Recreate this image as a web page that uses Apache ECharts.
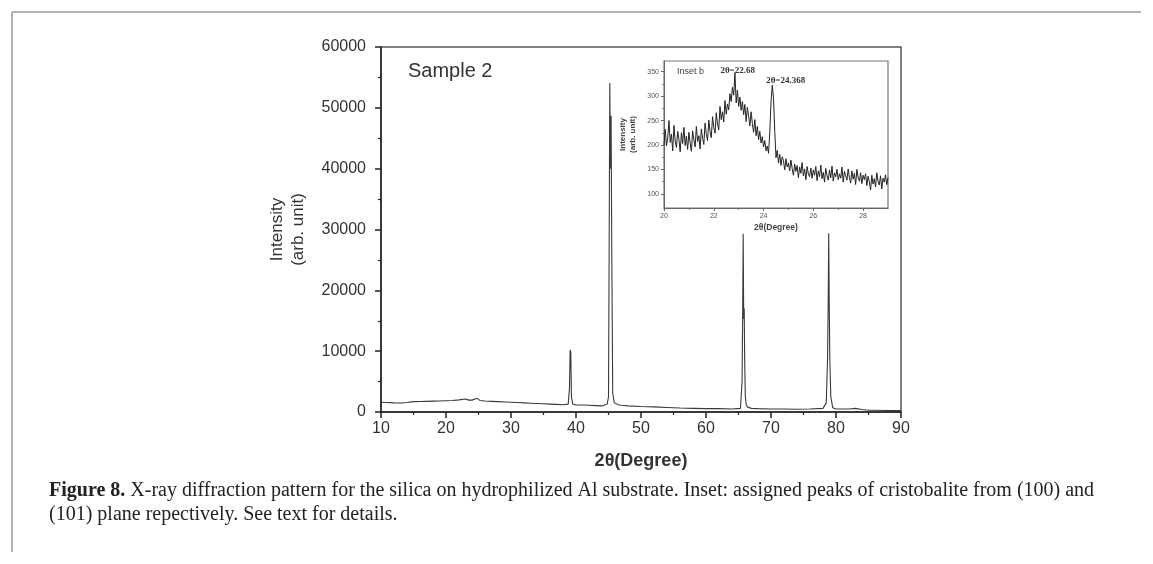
<!DOCTYPE html>
<html><head><meta charset="utf-8">
<script src="https://cdn.jsdelivr.net/npm/echarts@6/dist/echarts.min.js"></script>
<style>html,body{margin:0;padding:0;background:#fff}#c{width:1153px;height:564px}</style>
</head><body><div id="c"></div><script>
// Main XRD pattern (2θ in degrees, intensity in arb. unit)
const mainX = [10,11,12,13,14,15,16,17,18,19,20,21,22,23,23.5,24,24.8,25.2,26,27,28,29,30,31,32,33,34,35,36,37,38,38.8,39.0,39.1,39.2,39.3,39.5,40,41,42,43,44,44.8,45.0,45.1,45.2,45.3,45.4,45.5,45.65,45.9,46.5,47,48,50,52,54,55,56,58,60,62,64,65.3,65.55,65.65,65.72,65.8,65.88,65.95,66.05,66.2,66.4,67,68,70,72,74,76,78,78.5,78.7,78.8,78.88,78.96,79.05,79.2,79.5,80,82,83,84,85,86,88,90];
const mainY = [1600,1550,1500,1480,1550,1700,1720,1750,1780,1800,1850,1900,2000,2150,1950,1950,2250,1900,1800,1750,1700,1650,1600,1550,1500,1450,1400,1350,1300,1250,1200,1300,4000,10200,9800,2500,1300,1150,1150,1100,1050,1000,1300,2500,27000,54100,40000,48700,27100,3000,1500,1200,1100,1000,900,850,750,700,650,600,550,550,500,600,5000,17200,29300,15300,17000,8500,2500,1200,800,600,550,500,500,450,500,600,1500,8700,17800,29400,17800,8700,2500,700,500,500,600,400,300,300,250,250];
const mainXTicks = [10,20,30,40,50,60,70,80,90];
const mainYTicks = [0,10000,20000,30000,40000,50000,60000];

// Inset b: scan from 20.00° to 29.00° in 0.05° steps
const insetStart = 20, insetStep = 0.05;
const insetY = [
200,232,198,215,250,205,222,188,240,208,195,228,212,186,225,203,236,199,218,191,226,
204,187,229,211,196,238,207,219,192,233,214,201,245,222,209,251,228,215,258,236,
224,266,243,231,279,252,268,247,291,263,284,272,305,289,318,302,348,286,312,279,
298,271,289,262,283,248,277,259,239,268,244,226,252,219,238,211,228,204,217,196,
209,188,198,183,226,288,322,297,228,174,189,163,181,158,176,168,149,172,155,163,
147,169,152,138,161,146,158,133,155,142,164,137,151,129,156,141,135,153,132,149,
138,156,127,147,135,159,131,144,124,152,137,128,149,133,157,126,143,135,150,129,
141,132,155,124,146,137,128,151,133,122,147,130,142,119,150,134,126,143,121,138,
129,141,117,136,125,108,138,120,131,114,143,126,118,137,110,132,124,139,119,133];
const insetYTicks = [100,150,200,250,300,350];
const insetYMinor = [125,175,225,275,325];
const insetXTicks = [20,22,24,26,28];
const insetPeaks = [[22.68, 348, '2θ=22.68'], [24.368, 322, '2θ=24.368']];

const mainData = mainX.map((x, i) => [x, mainY[i]]);
const insetData = insetY.map((y, i) => [+(insetStart + i * insetStep).toFixed(2), y]);

const sans = 'Liberation Sans';
const plain = v => String(v);
const chart = echarts.init(document.getElementById('c'));
chart.setOption({
  animation: false,
  backgroundColor: '#fff',
  title: [
    { text: 'Sample 2', left: 403, top: 56, textStyle: { fontFamily: sans, fontSize: 20, fontWeight: 'normal', color: '#333' } },
    { text: 'Inset b', left: 672, top: 62, textStyle: { fontFamily: sans, fontSize: 9, fontWeight: 'normal', color: '#444' } },
    { text: '{b|Figure 8.} X-ray diffraction pattern for the silica on hydrophilized Al substrate. Inset: assigned peaks of cristobalite from (100) and\n(101) plane repectively. See text for details.',
      left: 44, top: 474,
      textStyle: { fontFamily: 'Liberation Serif', fontSize: 20, fontWeight: 'normal', color: '#222', lineHeight: 24,
        rich: { b: { fontFamily: 'Liberation Serif', fontSize: 20, fontWeight: 'bold', color: '#222', lineHeight: 24 } } } }
  ],
  graphic: [
    { type: 'line', shape: { x1: 12, y1: 12, x2: 1141, y2: 12 }, style: { stroke: '#9a9a9a', lineWidth: 1.5 } },
    { type: 'line', shape: { x1: 12, y1: 12, x2: 12, y2: 552 }, style: { stroke: '#9a9a9a', lineWidth: 1.5 } }
  ],
  grid: [
    { left: 381, top: 47, width: 520, height: 365, show: true, borderColor: '#555', borderWidth: 1.5, backgroundColor: 'transparent' },
    { left: 664, top: 61, width: 224, height: 147, show: true, borderColor: '#777', borderWidth: 1.2, backgroundColor: '#fff' }
  ],
  xAxis: [
    { gridIndex: 0, type: 'value', min: 10, max: 90, interval: 10,
      axisLine: { show: true, onZero: false, lineStyle: { color: '#222', width: 1.5 } },
      axisTick: { show: true, length: 6, customValues: mainXTicks, lineStyle: { color: '#222', width: 1.5 } },
      minorTick: { show: true, splitNumber: 2, length: 3, lineStyle: { color: '#222', width: 1.2 } },
      axisLabel: { customValues: mainXTicks, formatter: plain, color: '#333', fontSize: 16, fontFamily: sans, margin: 9 },
      splitLine: { show: false }, minorSplitLine: { show: false },
      name: '2θ(Degree)', nameLocation: 'middle', nameGap: 40,
      nameTextStyle: { fontSize: 18, fontWeight: 'bold', color: '#333', fontFamily: sans } },
    { gridIndex: 1, type: 'value', min: 20, max: 29, interval: 2,
      axisLine: { show: true, onZero: false, lineStyle: { color: '#666', width: 1 } },
      axisTick: { show: true, length: 3, customValues: insetXTicks, lineStyle: { color: '#666', width: 1 } },
      minorTick: { show: true, splitNumber: 2, length: 2, lineStyle: { color: '#666', width: 0.8 } },
      axisLabel: { customValues: insetXTicks, formatter: plain, color: '#555', fontSize: 7, fontFamily: sans, margin: 5 },
      splitLine: { show: false },
      name: '2θ(Degree)', nameLocation: 'middle', nameGap: 15,
      nameTextStyle: { fontSize: 8.5, fontWeight: 'bold', color: '#444', fontFamily: sans } }
  ],
  yAxis: [
    { gridIndex: 0, type: 'value', min: 0, max: 60000, interval: 10000,
      axisLine: { show: true, lineStyle: { color: '#222', width: 1.5 } },
      axisTick: { show: true, length: 6, customValues: mainYTicks, lineStyle: { color: '#222', width: 1.5 } },
      minorTick: { show: true, splitNumber: 2, length: 3, lineStyle: { color: '#222', width: 1.2 } },
      axisLabel: { customValues: mainYTicks, formatter: plain, color: '#333', fontSize: 16, fontFamily: sans, margin: 15 },
      splitLine: { show: false },
      name: 'Intensity\n(arb. unit)', nameLocation: 'middle', nameRotate: 90, nameGap: 72,
      nameTextStyle: { fontSize: 17, color: '#333', fontFamily: sans, lineHeight: 21 } },
    { gridIndex: 1, type: 'value', min: 71, max: 372, position: 'left',
      axisLine: { show: true, lineStyle: { color: '#666', width: 1 } },
      axisTick: { show: true, length: 3, customValues: insetYTicks, lineStyle: { color: '#666', width: 1 } },
      axisLabel: { customValues: insetYTicks, formatter: plain, color: '#555', fontSize: 7, fontFamily: sans, margin: 5 },
      splitLine: { show: false },
      name: 'Intensity\n(arb. unit)', nameLocation: 'middle', nameRotate: 90, nameGap: 26,
      nameTextStyle: { fontSize: 8, fontWeight: 'bold', color: '#444', fontFamily: sans, lineHeight: 10 } },
    { gridIndex: 1, type: 'value', min: 71, max: 372, position: 'left',
      axisLine: { show: false },
      axisTick: { show: true, length: 2, customValues: insetYMinor, lineStyle: { color: '#666', width: 0.8 } },
      axisLabel: { show: false }, splitLine: { show: false } }
  ],
  series: [
    { type: 'line', xAxisIndex: 0, yAxisIndex: 0, data: mainData, showSymbol: false, symbol: 'none',
      lineStyle: { color: '#3a3a3a', width: 1.1 } },
    { type: 'line', xAxisIndex: 1, yAxisIndex: 1, data: insetData, showSymbol: false, symbol: 'none',
      lineStyle: { color: '#222', width: 1 },
      markPoint: { symbol: 'circle', symbolSize: 0, silent: true,
        label: { show: true, position: 'inside', fontFamily: 'Liberation Serif', fontSize: 9, fontWeight: 'bold', color: '#333' },
        data: [
          { coord: [insetPeaks[0][0], insetPeaks[0][1]], value: insetPeaks[0][2], label: { formatter: insetPeaks[0][2], offset: [7, -2] } },
          { coord: [insetPeaks[1][0], insetPeaks[1][1]], value: insetPeaks[1][2], label: { formatter: insetPeaks[1][2], offset: [13, -5] } }
        ] } }
  ]
});
</script></body></html>
